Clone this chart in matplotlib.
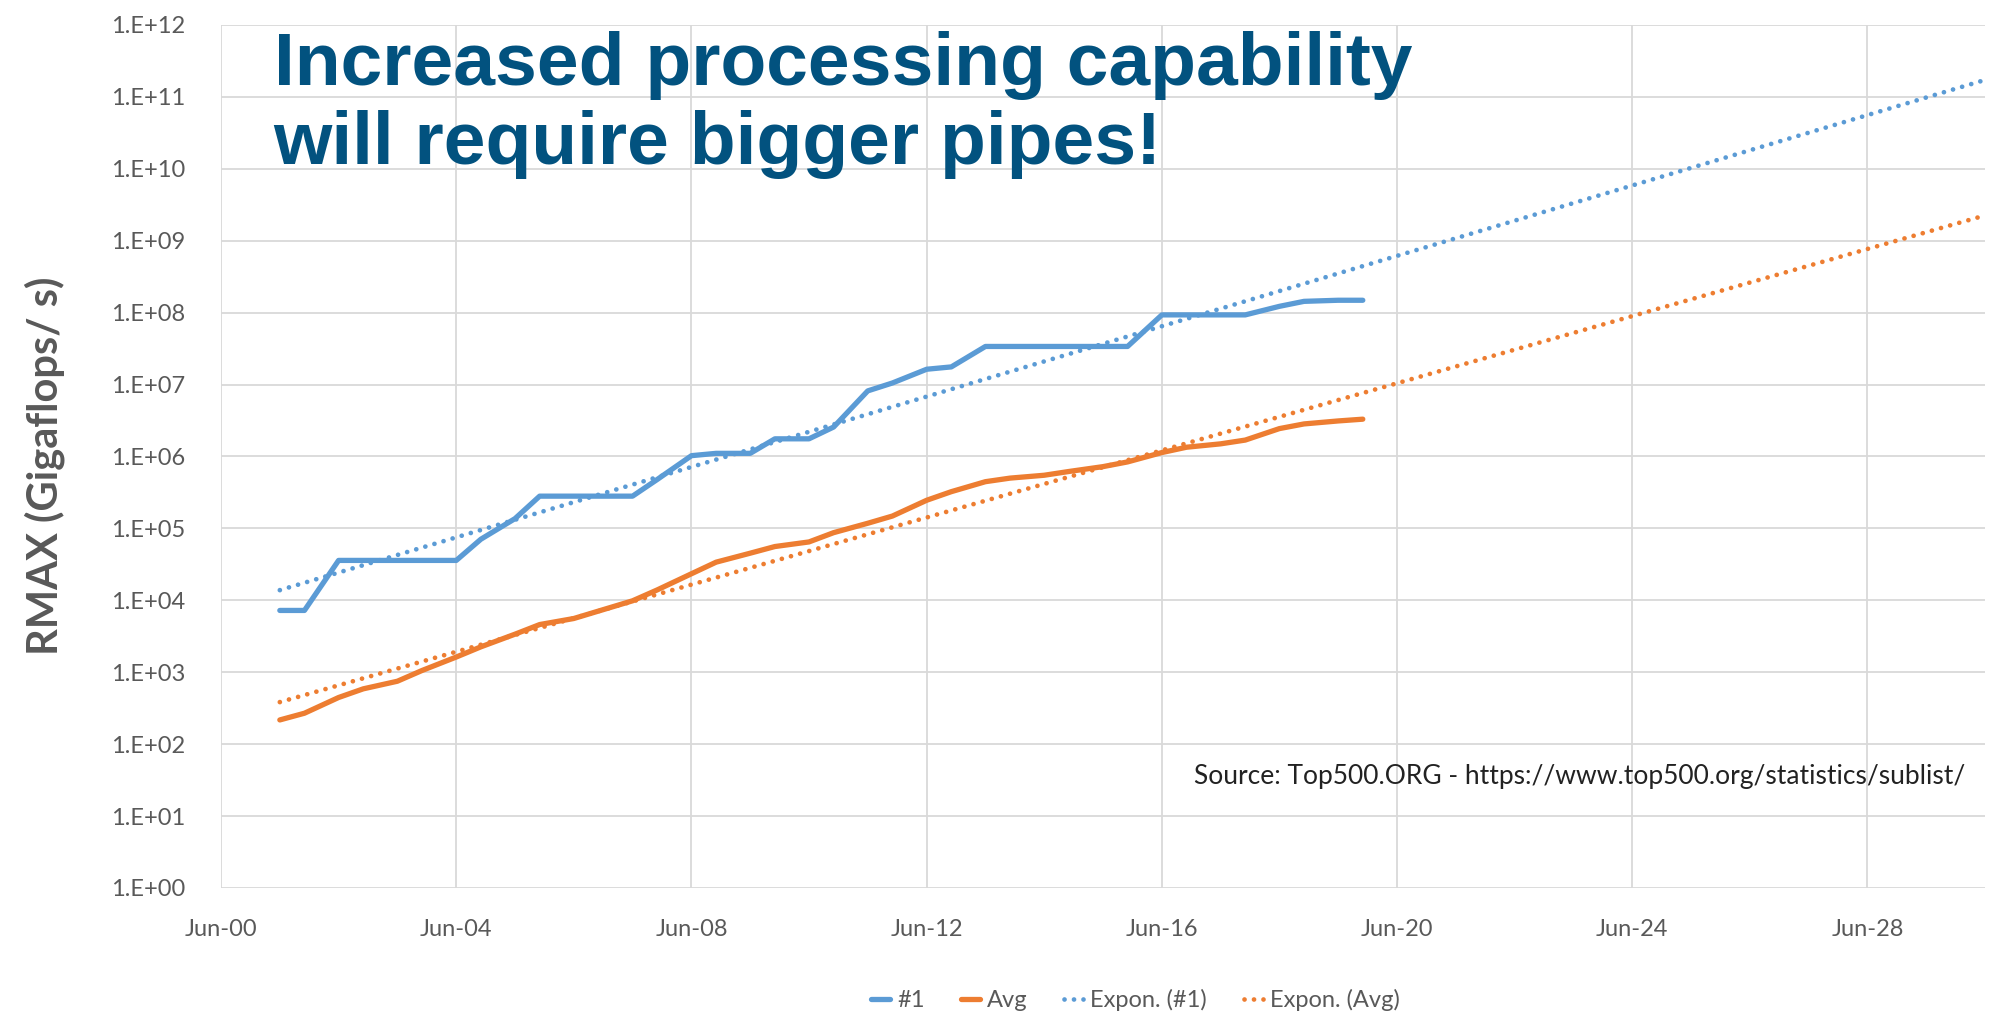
import numpy as np
import matplotlib
matplotlib.use("Agg")
import matplotlib.pyplot as plt
import matplotlib.dates as mdates
from matplotlib.ticker import FuncFormatter, FixedLocator
from datetime import date

# Top500 lists, June and November 2001-2019
years = list(range(2001, 2020))
list_dates = [date(y, m, 1) for y in years for m in (6, 11)]

# Rmax of the #1 system (Gflops/s)
top1 = [7226, 7226, 35860, 35860, 35860, 35860, 35860, 70720,
        136800, 280600, 280600, 280600, 280600, 478200,
        1026000, 1105000, 1105000, 1759000, 1759000, 2566000,
        8162000, 10510000, 16325000, 17590000,
        33863000, 33863000, 33863000, 33863000, 33863000, 33863000,
        93015000, 93015000, 93015000, 93015000,
        122300000, 143500000, 148600000, 148600000]

# average Rmax over the list (Gflops/s)
avg = [217, 269, 445, 587, 749, 1056, 1626, 2254, 3380, 4600,
       5582, 7080, 9840, 13940, 23400, 33900, 45200, 55900, 64800, 87200,
       117800, 148400, 246000, 324000, 446000, 500000, 548000, 618000,
       722000, 840000, 1133000, 1344000, 1498000, 1690000,
       2440000, 2834000, 3118000, 3300000]

tick_years = [2000, 2004, 2008, 2012, 2016, 2020, 2024, 2028]

blue = "#5B9BD5"
orange = "#ED7D31"
grey = "#595959"

fig = plt.figure(figsize=(19.97, 10.23), dpi=100)
ax = fig.add_axes([0.1107, 0.132, 0.994 - 0.1107, 0.9756 - 0.132])

x = mdates.date2num(list_dates)
x0 = mdates.date2num(date(2000, 6, 1))
x1 = mdates.date2num(date(2030, 6, 1))

ax.plot(x, top1, color=blue, lw=3.8, label="#1", solid_capstyle="round",
        solid_joinstyle="round", zorder=3)
ax.plot(x, avg, color=orange, lw=3.8, label="Avg", solid_capstyle="round",
        solid_joinstyle="round", zorder=3)

# Excel style exponential trendlines, forecast to the axis end
xt = np.linspace(x[0], x1, 200)
for series, col, name in [(top1, blue, "Expon. (#1)"), (avg, orange, "Expon. (Avg)")]:
    b, a = np.polyfit(x, np.log(series), 1)
    ax.plot(xt, np.exp(a + b * xt), color=col, lw=3.4, ls=(0, (0.01, 2.0)),
            dash_capstyle="round", label=name, zorder=2)

ax.set_yscale("log")
ax.set_ylim(1, 1e12)
ax.set_xlim(x0, x1)
ax.yaxis.set_major_locator(FixedLocator([10.0 ** k for k in range(13)]))
ax.yaxis.set_minor_locator(FixedLocator([]))
ax.yaxis.set_major_formatter(FuncFormatter(lambda v, p: "1.E+%02d" % round(np.log10(v))))
ax.xaxis.set_major_locator(FixedLocator([mdates.date2num(date(y, 6, 1)) for y in tick_years]))
ax.xaxis.set_major_formatter(mdates.DateFormatter("%b-%y"))

ax.grid(True, color="#D9D9D9", lw=1.3)
ax.set_axisbelow(True)
for s in ax.spines.values():
    s.set_visible(False)
ax.tick_params(length=0, labelsize=17, labelcolor=grey)
for lab in ax.get_xticklabels() + ax.get_yticklabels():
    lab.set_family("Lato")
ax.tick_params(axis="y", pad=26)
ax.tick_params(axis="x", pad=22)

fig.text(0.0225, 0.545, "RMAX (Gigaflops/ s)", rotation=90, ha="center", va="center",
         fontsize=30, fontweight="bold", color=grey, family="Lato")

fig.text(0.137, 0.840, "Increased processing capability\nwill require bigger pipes!",
         ha="left", va="baseline", fontsize=54, fontweight="bold", color="#02527F",
         family="Liberation Sans", linespacing=1.17)

fig.text(0.598, 0.2405, "Source: Top500.ORG - https://www.top500.org/statistics/sublist/",
         ha="left", va="center", fontsize=19, color="#222222", family="Lato")

fig.legend(loc="center", bbox_to_anchor=(0.5685, 0.0225), ncol=4, frameon=False,
           handlelength=0.8, handletextpad=0.3, columnspacing=1.55,
           prop={"family": "Lato", "size": 17}, labelcolor=grey)

fig.savefig("out.png", dpi=100, facecolor="white")
